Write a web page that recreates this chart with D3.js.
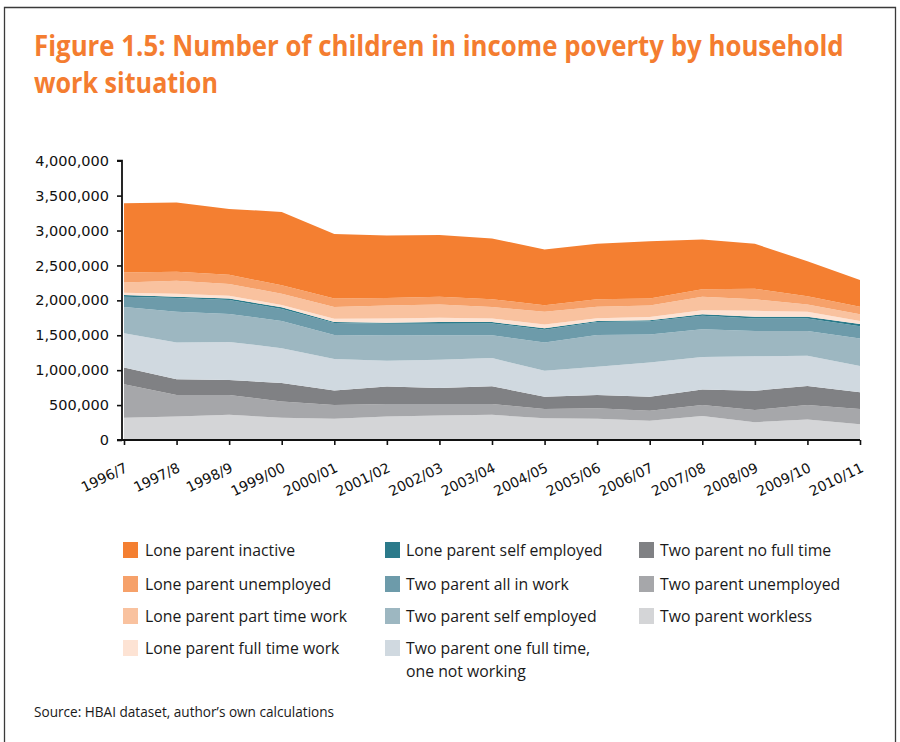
<!DOCTYPE html>
<html>
<head>
<meta charset="utf-8">
<script src="https://cdn.jsdelivr.net/npm/d3@7"></script>
<style>
  html, body { margin: 0; padding: 0; background: #fff; }
  svg { display: block; }
</style>
</head>
<body>
<svg id="chart" width="900" height="742"></svg>
<script>
// ---------------- DATA ----------------
const years = ["1996/7","1997/8","1998/9","1999/00","2000/01","2001/02","2002/03","2003/04",
               "2004/05","2005/06","2006/07","2007/08","2008/09","2009/10","2010/11"];

// values in number of children (stack order bottom -> top)
const twoParentWorkless      = [320000,335000,360000,320000,305000,335000,350000,360000,310000,305000,275000,345000,255000,295000,225000];
const twoParentUnemployed    = [480000,310000,285000,230000,195000,180000,165000,155000,135000,150000,145000,155000,175000,205000,220000];
const twoParentNoFullTime    = [240000,225000,215000,265000,210000,250000,230000,255000,175000,190000,200000,225000,275000,275000,240000];
const twoParentOneFullTime   = [490000,525000,545000,500000,450000,370000,405000,405000,370000,405000,490000,465000,495000,430000,375000];
const twoParentSelfEmployed  = [375000,440000,400000,390000,345000,360000,350000,325000,405000,455000,400000,395000,360000,355000,395000];
const twoParentAllInWork     = [145000,200000,200000,170000,170000,170000,165000,170000,185000,185000,190000,195000,180000,180000,175000];
const loneParentSelfEmployed = [25000,15000,20000,25000,15000,15000,25000,20000,20000,15000,15000,20000,25000,25000,30000];
const loneParentFullTime     = [35000,45000,40000,35000,45000,60000,60000,50000,55000,40000,45000,60000,85000,70000,45000];
const loneParentPartTime     = [145000,185000,170000,160000,170000,185000,190000,165000,180000,165000,165000,190000,165000,105000,95000];
const loneParentUnemployed   = [145000,130000,130000,120000,120000,110000,110000,110000,95000,105000,100000,110000,150000,120000,110000];
const loneParentInactive     = [990000,990000,945000,1050000,925000,895000,885000,870000,800000,795000,820000,710000,645000,500000,380000];

const seriesNames = [
  "Two parent workless", "Two parent unemployed", "Two parent no full time",
  "Two parent one full time, one not working", "Two parent self employed",
  "Two parent all in work", "Lone parent self employed", "Lone parent full time work",
  "Lone parent part time work", "Lone parent unemployed", "Lone parent inactive"
];
const seriesValues = [
  twoParentWorkless, twoParentUnemployed, twoParentNoFullTime, twoParentOneFullTime,
  twoParentSelfEmployed, twoParentAllInWork, loneParentSelfEmployed, loneParentFullTime,
  loneParentPartTime, loneParentUnemployed, loneParentInactive
];
const seriesColors = [
  "#d4d5d7", "#a6a7aa", "#808184", "#d0d9e0", "#9db7c1",
  "#6d9baa", "#2b7a8a", "#fde3d4", "#f9c29f", "#f6a16a", "#f47f31"
];

const yTicks = [0, 500000, 1000000, 1500000, 2000000, 2500000, 3000000, 3500000, 4000000];

// legend layout: columns of series names
const legendColumns = [
  ["Lone parent inactive", "Lone parent unemployed", "Lone parent part time work", "Lone parent full time work"],
  ["Lone parent self employed", "Two parent all in work", "Two parent self employed", "Two parent one full time, one not working"],
  ["Two parent no full time", "Two parent unemployed", "Two parent workless"]
];

// ---------------- DRAW ----------------
const svg = d3.select("#chart");
const orange = "#f47d30";

// frame
svg.append("path")
  .attr("d", "M4.5,742 L4.5,7.5 L895.5,7.5 L895.5,742")
  .attr("fill", "none").attr("stroke", "#3a3a3a").attr("stroke-width", 1.3);

// title (horizontally condensed via transform so it fits like the original narrow face)
const titleFont = "'Open Sans', sans-serif";
function titleLine(txt, yPos, targetW) {
  const g = svg.append("g");
  const t = g.append("text")
    .attr("x", 0).attr("y", 0)
    .attr("font-family", titleFont).attr("font-weight", "bold")
    .attr("font-size", 28).attr("fill", orange)
    .text(txt);
  const len = t.node().getComputedTextLength();
  const s = Math.min(1, targetW / len);
  g.attr("transform", `translate(34,${yPos}) scale(${s},1)`);
}
titleLine("Figure 1.5: Number of children in income poverty by household", 56, 810);
titleLine("work situation", 93, 184);

// scales
const x = d3.scalePoint().domain(years).range([124, 860]);
const y = d3.scaleLinear().domain([0, 4000000]).range([440, 160.7]);

// stacked data
const table = years.map((yr, i) => {
  const row = { year: yr };
  seriesNames.forEach((n, k) => { row[n] = seriesValues[k][i]; });
  return row;
});
const stack = d3.stack().keys(seriesNames);
const layers = stack(table);

const area = d3.area()
  .x(d => x(d.data.year))
  .y0(d => y(d[0]))
  .y1(d => y(d[1]));

svg.append("g").selectAll("path")
  .data(layers)
  .join("path")
  .attr("d", area)
  .attr("fill", (d, i) => seriesColors[i]);

// y axis
const yAxis = d3.axisLeft(y).tickValues(yTicks).tickFormat(d3.format(",")).tickSize(5).tickPadding(8);
const gy = svg.append("g").attr("transform", "translate(122,0)").call(yAxis);
gy.select(".domain").attr("stroke", "#111").attr("stroke-width", 1.8).attr("d", `M-5,${y(0)}H0V${y(4000000)}H-5`);
gy.selectAll(".tick line").attr("stroke", "#111").attr("stroke-width", 1.6);
gy.selectAll(".tick text").attr("font-family", "'DejaVu Sans', sans-serif").attr("font-size", 14.5).attr("fill", "#111");

// x axis
const xAxis = d3.axisBottom(x).tickSize(5).tickSizeOuter(0);
const gx = svg.append("g").attr("transform", "translate(0,440)").call(xAxis);
gx.select(".domain").attr("stroke", "#111").attr("stroke-width", 1.8).attr("d", "M122,0H860");
gx.selectAll(".tick line").attr("stroke", "#111").attr("stroke-width", 1.6);
gx.selectAll(".tick text")
  .attr("font-family", "'DejaVu Sans', sans-serif").attr("font-size", 14).attr("fill", "#111")
  .attr("text-anchor", "end").attr("dy", 0).attr("y", 0)
  .attr("transform", "translate(4,31) rotate(-26)");

// legend
const colX = [[123, 145], [385, 406], [639, 660]];
const rowY = [550, 584, 616, 648];
const legendFont = "'Open Sans', sans-serif";
legendColumns.forEach((col, ci) => {
  col.forEach((name, ri) => {
    const k = seriesNames.indexOf(name);
    const g = svg.append("g");
    g.append("rect")
      .attr("x", colX[ci][0]).attr("y", rowY[ri] - 8)
      .attr("width", 15).attr("height", 16)
      .attr("fill", seriesColors[k]);
    const parts = name === "Two parent one full time, one not working"
      ? ["Two parent one full time,", "one not working"] : [name];
    parts.forEach((p, pi) => {
      g.append("text")
        .attr("x", colX[ci][1]).attr("y", rowY[ri] + 5.5 + pi * 23)
        .attr("font-family", legendFont).attr("font-size", 15.8).attr("fill", "#1a1a1a")
        .text(p);
    });
  });
});

// source
svg.append("text")
  .attr("x", 34).attr("y", 717)
  .attr("font-family", legendFont).attr("font-size", 13.6).attr("fill", "#1a1a1a")
  .text("Source: HBAI dataset, author\u2019s own calculations");
</script>
</body>
</html>
